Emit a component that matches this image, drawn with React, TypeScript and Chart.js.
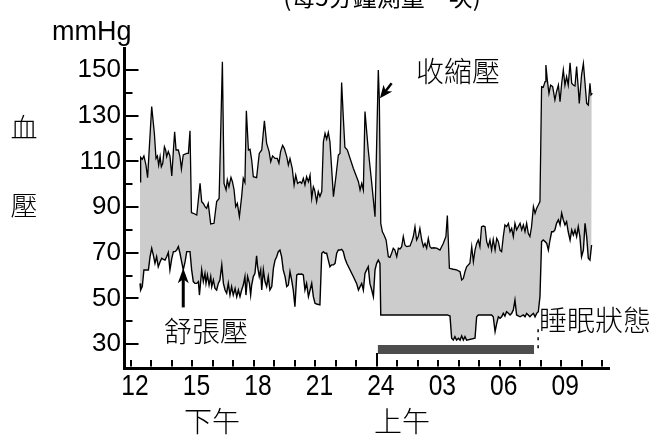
import React, { useEffect, useRef } from 'react';
import { Chart, registerables } from 'chart.js';

Chart.register(...registerables);

// [hour (12 = noon, 24 = midnight, 36 = next noon), mmHg]
const systolic: [number, number][] = [
  [12.44, 101.1], [12.47, 111.8], [12.55, 110.9], [12.63, 112.4], [12.73, 108.4], [12.81, 102.9], [13.01, 134.0], [13.14, 122.3],
  [13.22, 111.3], [13.29, 112.4], [13.35, 108.4], [13.42, 112.1], [13.48, 107.7], [13.55, 109.2], [13.63, 116.4], [13.69, 115.0],
  [13.74, 112.1], [13.82, 114.3], [13.90, 112.4], [13.99, 103.6], [14.07, 115.0], [14.13, 123.0], [14.20, 115.0], [14.31, 115.0],
  [14.39, 112.1], [14.46, 106.7], [14.55, 112.8], [14.72, 113.5], [14.80, 113.5], [14.88, 123.4], [14.95, 87.6], [15.04, 87.3],
  [15.21, 86.5], [15.37, 100.4], [15.45, 92.4], [15.53, 91.6], [15.61, 90.2], [15.69, 89.5], [15.77, 91.6], [15.89, 82.6],
  [16.05, 82.9], [16.18, 92.4], [16.30, 93.8], [16.46, 153.6], [16.54, 100.4], [16.64, 97.5], [16.70, 101.9], [16.78, 98.9],
  [16.88, 103.0], [16.95, 101.1], [17.03, 97.5], [17.11, 90.2], [17.19, 91.6], [17.29, 85.8], [17.40, 94.6], [17.48, 102.6],
  [17.56, 100.8], [17.63, 132.2], [17.73, 115.0], [17.81, 115.3], [17.89, 110.6], [17.97, 103.3], [18.13, 102.9], [18.26, 113.5],
  [18.38, 115.0], [18.51, 127.8], [18.62, 117.9], [18.74, 114.3], [18.82, 109.9], [18.91, 112.4], [19.03, 111.3], [19.14, 111.3],
  [19.22, 109.2], [19.30, 114.3], [19.40, 117.0], [19.48, 115.7], [19.60, 112.1], [19.68, 108.4], [19.76, 111.3], [19.87, 107.0],
  [19.96, 99.7], [20.04, 104.0], [20.13, 100.4], [20.25, 101.1], [20.33, 100.4], [20.41, 102.6], [20.49, 99.7], [20.57, 103.3],
  [20.66, 101.1], [20.74, 104.0], [20.82, 93.8], [20.90, 98.9], [20.96, 97.5], [21.06, 92.4], [21.14, 96.8], [21.22, 94.6],
  [21.31, 96.8], [21.39, 118.6], [21.47, 122.3], [21.55, 119.7], [21.63, 122.7], [21.71, 118.6], [21.88, 94.6], [22.01, 104.0],
  [22.12, 112.8], [22.20, 113.5], [22.28, 144.5], [22.36, 129.6], [22.44, 116.2], [22.56, 115.0], [22.85, 107.0], [23.10, 101.1],
  [23.18, 97.5], [23.26, 100.4], [23.34, 97.5], [23.42, 131.8], [23.58, 115.0], [23.75, 100.4], [23.91, 85.8], [24.07, 150.0],
  [24.12, 137.2], [24.19, 82.9], [24.27, 79.2], [24.35, 77.8], [24.45, 75.6], [24.56, 68.3], [24.64, 68.0], [24.72, 69.8],
  [24.80, 72.0], [24.88, 71.2], [24.97, 68.3], [25.05, 72.0], [25.13, 71.7], [25.21, 72.7], [25.29, 77.1], [25.37, 73.4],
  [25.45, 72.7], [25.62, 73.0], [25.70, 74.9], [25.78, 77.1], [25.86, 81.4], [25.94, 75.6], [26.02, 77.1], [26.10, 80.7],
  [26.19, 75.6], [26.27, 72.7], [26.35, 74.1], [26.43, 72.0], [26.51, 76.3], [26.59, 72.7], [26.67, 72.0], [26.76, 72.2],
  [26.92, 72.0], [27.08, 71.2], [27.24, 74.1], [27.37, 77.1], [27.44, 86.3], [27.54, 63.2], [27.73, 62.8], [27.89, 62.5],
  [28.06, 61.7], [28.14, 58.1], [28.22, 58.8], [28.30, 61.7], [28.38, 63.9], [28.54, 65.4], [28.63, 72.7], [28.71, 66.1],
  [28.79, 71.2], [28.87, 74.1], [28.95, 75.6], [29.03, 72.7], [29.11, 81.4], [29.20, 81.7], [29.28, 81.4], [29.36, 74.9],
  [29.44, 72.7], [29.52, 75.6], [29.60, 71.2], [29.68, 75.9], [29.77, 71.2], [29.85, 76.3], [29.93, 74.9], [30.01, 71.2],
  [30.09, 70.5], [30.17, 77.1], [30.25, 82.2], [30.33, 81.4], [30.42, 82.9], [30.50, 79.2], [30.58, 80.7], [30.66, 77.1],
  [30.74, 82.9], [30.82, 80.0], [30.90, 81.4], [30.99, 82.9], [31.07, 80.0], [31.15, 82.2], [31.23, 79.2], [31.31, 82.9],
  [31.39, 78.5], [31.47, 77.1], [31.55, 81.4], [31.64, 90.2], [31.72, 87.3], [31.80, 89.5], [31.88, 90.9], [31.96, 92.4],
  [32.04, 142.7], [32.12, 142.4], [32.21, 144.9], [32.25, 152.2], [32.32, 145.6], [32.40, 139.8], [32.48, 143.4], [32.58, 142.7],
  [32.69, 136.9], [32.77, 140.5], [32.86, 143.4], [32.94, 136.1], [33.02, 144.2], [33.10, 150.0], [33.18, 143.4], [33.26, 147.1],
  [33.34, 143.4], [33.43, 153.2], [33.51, 144.2], [33.59, 143.4], [33.67, 143.0], [33.75, 151.5], [33.83, 142.0], [33.88, 135.4],
  [33.99, 147.8], [34.08, 152.9], [34.16, 144.2], [34.24, 135.4], [34.32, 134.7], [34.40, 144.2], [34.45, 139.1], [34.52, 139.8],
];

const diastolic: [number, number][] = [
  [12.44, 56.6], [12.47, 53.7], [12.55, 55.2], [12.63, 62.5], [12.77, 62.5], [12.85, 62.5], [12.93, 68.3], [13.01, 72.0],
  [13.09, 69.0], [13.17, 65.4], [13.25, 68.3], [13.33, 63.9], [13.42, 66.1], [13.50, 67.6], [13.58, 67.1], [13.66, 66.8],
  [13.74, 68.3], [13.82, 70.1], [13.90, 62.5], [13.99, 67.6], [14.07, 70.5], [14.15, 70.5], [14.23, 71.2], [14.31, 72.7],
  [14.39, 69.8], [14.47, 66.1], [14.55, 62.5], [14.64, 66.1], [14.72, 70.5], [14.80, 70.5], [14.88, 70.5], [14.96, 62.5],
  [15.04, 57.4], [15.12, 56.6], [15.21, 56.6], [15.29, 57.4], [15.34, 51.5], [15.45, 62.5], [15.53, 57.4], [15.61, 61.0],
  [15.66, 56.6], [15.73, 60.3], [15.81, 55.9], [15.89, 59.6], [15.94, 55.2], [16.02, 58.1], [16.10, 54.4], [16.18, 53.7],
  [16.26, 56.6], [16.34, 58.1], [16.43, 64.7], [16.51, 56.6], [16.59, 53.7], [16.67, 52.3], [16.75, 56.6], [16.83, 51.5],
  [16.91, 55.2], [16.99, 51.5], [17.08, 54.4], [17.16, 50.8], [17.24, 53.7], [17.32, 50.8], [17.40, 53.7], [17.48, 55.9],
  [17.56, 59.6], [17.61, 51.5], [17.69, 59.6], [17.78, 56.6], [17.84, 51.5], [17.89, 55.9], [17.97, 59.6], [18.05, 61.0],
  [18.13, 68.7], [18.18, 63.9], [18.26, 59.6], [18.33, 62.5], [18.38, 53.7], [18.46, 62.5], [18.54, 57.4], [18.62, 55.2],
  [18.70, 59.6], [18.78, 53.7], [18.87, 55.2], [18.95, 63.2], [19.03, 66.8], [19.11, 68.3], [19.19, 70.5], [19.27, 71.2],
  [19.35, 68.3], [19.43, 62.5], [19.52, 59.6], [19.60, 55.2], [19.68, 55.9], [19.76, 61.7], [19.84, 58.1], [19.92, 53.7],
  [20.00, 46.4], [20.09, 60.3], [20.17, 60.7], [20.25, 60.6], [20.33, 60.7], [20.41, 60.3], [20.49, 53.7], [20.57, 56.6],
  [20.66, 50.8], [20.74, 53.7], [20.82, 56.6], [20.90, 50.8], [20.98, 47.9], [21.06, 47.6], [21.22, 47.2], [21.31, 69.8],
  [21.39, 70.5], [21.47, 69.8], [21.55, 69.8], [21.63, 66.8], [21.71, 63.9], [21.79, 64.7], [21.88, 64.7], [21.96, 65.4],
  [22.04, 69.8], [22.12, 71.2], [22.20, 71.2], [22.28, 71.5], [22.36, 70.5], [22.44, 67.6], [22.53, 65.4], [22.85, 59.6],
  [23.01, 56.6], [23.10, 53.7], [23.18, 55.2], [23.26, 56.6], [23.34, 53.7], [23.42, 61.0], [23.50, 62.5], [23.58, 63.9],
  [23.66, 56.6], [23.75, 53.7], [23.83, 50.8], [23.91, 62.5], [23.99, 65.4], [24.07, 66.8], [24.15, 65.4], [24.19, 42.8],
  [27.44, 42.8], [27.57, 42.3], [27.65, 32.6], [27.73, 31.8], [27.81, 33.3], [27.89, 31.8], [27.98, 32.6], [28.06, 31.8],
  [28.14, 33.6], [28.22, 31.8], [28.30, 33.3], [28.38, 31.8], [28.79, 32.6], [28.87, 42.0], [28.95, 42.8], [29.60, 42.8],
  [29.68, 42.0], [29.77, 35.5], [29.85, 39.1], [29.93, 42.0], [30.01, 41.3], [30.09, 42.0], [30.17, 43.5], [30.25, 42.3],
  [30.33, 44.2], [30.42, 43.5], [30.50, 42.8], [30.58, 43.5], [30.66, 45.0], [30.74, 49.3], [30.82, 42.8], [30.99, 42.0],
  [31.15, 42.8], [31.23, 42.0], [31.31, 43.5], [31.39, 42.8], [31.47, 42.0], [31.55, 42.8], [31.64, 43.5], [31.72, 42.0],
  [31.80, 43.5], [31.88, 44.2], [31.96, 50.8], [32.04, 74.9], [32.12, 75.6], [32.21, 74.9], [32.29, 74.1], [32.37, 71.2],
  [32.45, 75.6], [32.53, 79.2], [32.61, 79.2], [32.69, 80.0], [32.77, 82.9], [32.86, 84.4], [32.94, 82.2], [33.02, 87.3],
  [33.10, 84.4], [33.18, 82.2], [33.26, 83.6], [33.34, 79.2], [33.43, 75.6], [33.51, 80.0], [33.59, 77.8], [33.67, 80.0],
  [33.75, 77.1], [33.83, 81.4], [33.91, 77.1], [33.99, 68.3], [34.08, 71.2], [34.16, 82.9], [34.24, 77.1], [34.32, 67.6],
  [34.40, 66.8], [34.48, 73.4],
];

// sleep period (hours) and the level of the sleep bar (mmHg)
const sleepSpan: [number, number] = [24.05, 31.67];
const sleepLevel = 27.7;
const sleepEndHour = 31.87;
const sleepEndRange: [number, number] = [36.5, 26];

const xTickValues = [12, 15, 18, 21, 24, 27, 30, 33];
const xTickLabels = ['12', '15', '18', '21', '24', '03', '06', '09'];
const xHourTicks = [12, 13, 14, 15, 16, 17, 18, 19, 20, 21, 22, 23, 24, 25, 26, 27, 28, 29, 30, 31, 32, 33, 34, 35];
const yTickValues = [30, 50, 70, 90, 110, 130, 150];
const yTickLabels = ['30', '50', '70', '90', '110', '130', '150'];
const yMinorTicks = [40, 60, 80, 100, 120, 140];

const titleText = '(每5分鐘測量一次)';
const unitText = 'mmHg';
const axisTitleChars = ['血', '壓'];
const systolicLabel = '收縮壓';
const diastolicLabel = '舒張壓';
const sleepLabel = '睡眠狀態';
const pmLabel = '下午';
const amLabel = '上午';

// arrow anchors in data units [hour, mmHg]: tail -> tip
const systolicArrow: [[number, number], [number, number]] = [[24.72, 144.2], [24.15, 137.6]];
const diastolicArrow: [[number, number], [number, number]] = [[14.55, 46.1], [14.55, 63.2]];

const CJK = '"Noto Sans CJK TC", "Noto Sans CJK SC", sans-serif';
const SANS = '"Liberation Sans", Arial, sans-serif';

function drawArrow(ctx: CanvasRenderingContext2D, x1: number, y1: number, x2: number, y2: number, headLen: number, headW: number, lw: number) {
  const ang = Math.atan2(y2 - y1, x2 - x1);
  const bx = x2 - Math.cos(ang) * headLen;
  const by = y2 - Math.sin(ang) * headLen;
  ctx.beginPath();
  ctx.lineWidth = lw;
  ctx.moveTo(x1, y1);
  ctx.lineTo(x2 - Math.cos(ang) * headLen * 0.6, y2 - Math.sin(ang) * headLen * 0.6);
  ctx.stroke();
  const nx = -Math.sin(ang);
  const ny = Math.cos(ang);
  ctx.beginPath();
  ctx.moveTo(x2, y2);
  ctx.lineTo(bx + nx * headW / 2, by + ny * headW / 2);
  ctx.lineTo(x2 - Math.cos(ang) * headLen * 0.72, y2 - Math.sin(ang) * headLen * 0.72);
  ctx.lineTo(bx - nx * headW / 2, by - ny * headW / 2);
  ctx.closePath();
  ctx.fill();
}

const annotationPlugin = {
  id: 'bpAnnotations',
  afterDraw(chart: any) {
    const ctx: CanvasRenderingContext2D = chart.ctx;
    const xs = chart.scales.x;
    const ys = chart.scales.y;
    const area = chart.chartArea;
    ctx.save();
    ctx.strokeStyle = '#000';
    ctx.fillStyle = '#000';
    ctx.lineCap = 'butt';

    // inward tick marks
    ctx.lineWidth = 2;
    const ax = area.left + 1.5;
    ctx.beginPath();
    for (const v of yTickValues) {
      const py = Math.round(ys.getPixelForValue(v));
      ctx.moveTo(ax, py);
      ctx.lineTo(ax + 13, py);
    }
    for (const v of yMinorTicks) {
      const py = Math.round(ys.getPixelForValue(v));
      ctx.moveTo(ax, py);
      ctx.lineTo(ax + 7, py);
    }
    const ay = area.bottom - 1.5;
    for (const h of xHourTicks) {
      const px = Math.round(xs.getPixelForValue(h));
      ctx.moveTo(px, ay);
      ctx.lineTo(px, ay - (h === 24 ? 13.5 : 6.5));
    }
    ctx.stroke();

    // x tick labels (condensed rendering), placed by the x scale
    ctx.font = `30px ${SANS}`;
    ctx.textAlign = 'center';
    ctx.textBaseline = 'alphabetic';
    xTickValues.forEach((v, i) => {
      const px = xs.getPixelForValue(v) + 4;
      ctx.save();
      ctx.translate(px, 394.5);
      ctx.scale(0.82, 1);
      ctx.fillText(xTickLabels[i], 0, 0);
      ctx.restore();
    });

    // arrows
    const p = (pt: [number, number]) => [xs.getPixelForValue(pt[0]), ys.getPixelForValue(pt[1])];
    {
      const [t, h] = systolicArrow;
      const [x1, y1] = p(t);
      const [x2, y2] = p(h);
      drawArrow(ctx, x1, y1, x2, y2, 13, 11, 2.5);
    }
    {
      const [t, h] = diastolicArrow;
      const [x1, y1] = p(t);
      const [x2, y2] = p(h);
      drawArrow(ctx, x1, y1, x2, y2, 15, 11, 3);
    }

    // texts
    ctx.textBaseline = 'alphabetic';
    ctx.textAlign = 'center';
    ctx.font = `24px ${CJK}`;
    ctx.fillText(titleText, 382, 6);

    ctx.font = `27px ${SANS}`;
    ctx.textAlign = 'left';
    ctx.fillText(unitText, 52, 40);

    ctx.textAlign = 'center';
    ctx.textBaseline = 'middle';
    ctx.font = `300 27px ${CJK}`;
    ctx.fillText(axisTitleChars[0], 24, 128);
    ctx.fillText(axisTitleChars[1], 24, 206);

    ctx.font = `300 28px ${CJK}`;
    ctx.fillText(systolicLabel, 458, 71);
    ctx.fillText(diastolicLabel, 206, 331);
    ctx.textAlign = 'left';
    ctx.fillText(sleepLabel, 539, 320);
    ctx.textAlign = 'center';
    ctx.fillText(pmLabel, 212, 421);
    ctx.fillText(amLabel, 402, 421);
    ctx.restore();
  },
};

export default function App() {
  const ref = useRef<HTMLCanvasElement>(null);
  useEffect(() => {
    const canvas = ref.current;
    if (!canvas) return;
    const toPts = (arr: [number, number][]) => arr.map(([x, y]) => ({ x, y }));
    const chart = new Chart(canvas, {
      type: 'line',
      data: {
        datasets: [
          {
            label: systolicLabel,
            data: toPts(systolic),
            borderColor: '#000',
            borderWidth: 1.3,
            backgroundColor: '#cccccc',
            fill: '+1',
            pointRadius: 0,
            tension: 0,
          },
          {
            label: diastolicLabel,
            data: toPts(diastolic),
            borderColor: '#000',
            borderWidth: 1.4,
            fill: false,
            pointRadius: 0,
            tension: 0,
          },
          {
            label: sleepLabel,
            data: [
              { x: sleepSpan[0], y: sleepLevel },
              { x: sleepSpan[1], y: sleepLevel },
            ],
            borderColor: '#4d4d4d',
            borderWidth: 9,
            borderCapStyle: 'butt',
            fill: false,
            pointRadius: 0,
          },
          {
            label: 'sleep-end',
            data: [
              { x: sleepEndHour, y: sleepEndRange[0] },
              { x: sleepEndHour, y: sleepEndRange[1] },
            ],
            borderColor: '#000',
            borderWidth: 1.5,
            borderDash: [3, 5],
            fill: false,
            pointRadius: 0,
          },
        ] as any,
      },
      options: {
        animation: false,
        responsive: false,
        layout: { padding: { left: 0, right: 48, top: 48, bottom: 27 } },
        plugins: {
          legend: { display: false },
          tooltip: { enabled: false },
          title: { display: false },
          filler: { drawTime: 'beforeDatasetsDraw' },
        } as any,
        scales: {
          x: {
            type: 'linear',
            min: 11.658,
            max: 35.33,
            afterBuildTicks: (s: any) => {
              s.ticks = xTickValues.map((v) => ({ value: v }));
            },
            afterFit: (s: any) => {
              s.height = 40;
            },
            ticks: {
              display: false,
              autoSkip: false,
              maxRotation: 0,
            },
            grid: { display: true, drawOnChartArea: false, drawTicks: false },
            border: { display: true, color: '#000', width: 3 },
          },
          y: {
            type: 'linear',
            min: 19.58,
            max: 159.63,
            afterBuildTicks: (s: any) => {
              s.ticks = yTickValues.map((v) => ({ value: v }));
            },
            afterFit: (s: any) => {
              s.width = 124;
            },
            ticks: {
              autoSkip: false,
              color: '#000',
              padding: 3,
              font: { family: SANS, size: 26 },
              callback: (v: any) => {
                const i = yTickValues.indexOf(Number(v));
                return i >= 0 ? yTickLabels[i] : '';
              },
            },
            grid: { display: true, drawOnChartArea: false, drawTicks: false },
            border: { display: true, color: '#000', width: 3 },
          },
        } as any,
      },
      plugins: [annotationPlugin],
    });
    return () => chart.destroy();
  }, []);
  return (
    <div style={{ position: 'fixed', left: 0, top: 0, width: 657, height: 435, background: '#fff' }}>
      <canvas ref={ref} width={657} height={435} style={{ width: 657, height: 435, display: 'block' }} />
    </div>
  );
}
